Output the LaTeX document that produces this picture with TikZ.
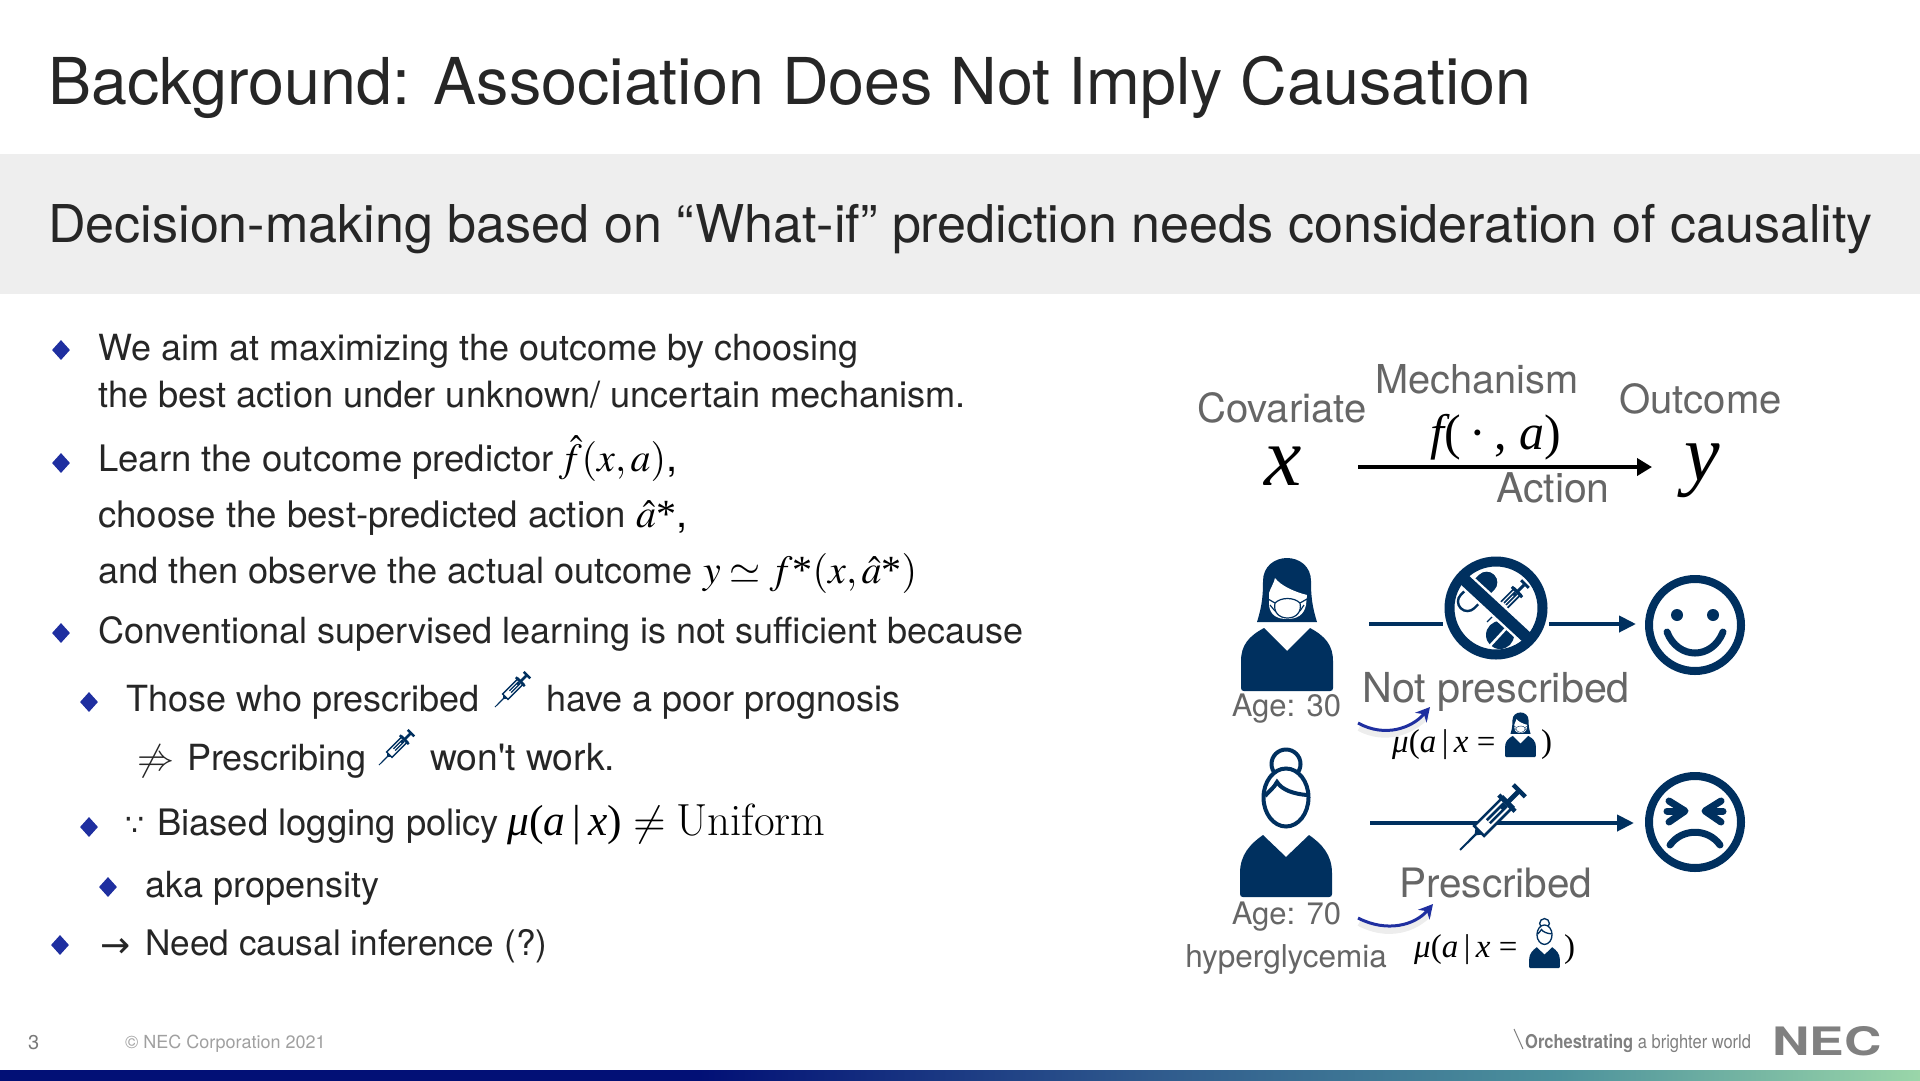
\documentclass[tikz,border=0pt]{standalone}
\usepackage{mathptmx}
\usepackage[no-math]{fontspec}
\setsansfont{TeX Gyre Heros}
\newfontfamily\plainsf{TeX Gyre Heros}
\newfontfamily\djv{DejaVu Sans}
\newfontfamily\lmr{Latin Modern Roman}
\newfontfamily\tm{Liberation Serif}
\usetikzlibrary{arrows.meta,shapes.geometric}
\definecolor{navy}{HTML}{00305F}
\definecolor{bulletblue}{HTML}{1F2FA0}
\definecolor{ink}{HTML}{262626}
\definecolor{labelgray}{HTML}{666666}
\definecolor{footgray}{HTML}{A0A0A0}
\definecolor{pagegray}{HTML}{7A7A7A}
\definecolor{loggray}{HTML}{808080}
\definecolor{barA}{HTML}{021076}
\definecolor{barB}{HTML}{2F5A8D}
\definecolor{barC}{HTML}{4C919C}
\definecolor{barD}{HTML}{9AD6A9}
\pgfdeclarehorizontalshading{barshade}{100bp}{color(0bp)=(barA);color(43.2bp)=(barA);color(54.95bp)=(barB);color(65.6bp)=(barC);color(75bp)=(barD);color(100bp)=(barD)}
\newcommand{\fs}[1]{\fontsize{#1}{#1}\selectfont}
\newcommand{\ti}[1]{{\tm\itshape #1}}
\newcommand{\tast}{\mbox{\tm *}}
\newcommand{\muax}{\ti{μ}(\ti{a}\,|\,\ti{x}}
\tikzset{
  txt/.style={inner sep=0pt,anchor=base west,text=ink,font=\sffamily\fs{36}},
  lab/.style={inner sep=0pt,anchor=base west,text=labelgray,font=\sffamily\fs{40.1}},
  smalllab/.style={inner sep=0pt,anchor=base,text=labelgray,font=\sffamily\fs{31}},
  mth/.style={inner sep=0pt,anchor=base west,text=black},
  bul/.style={diamond,aspect=0.85,fill=bulletblue,inner sep=0pt,minimum width=18pt,minimum height=20pt},
  navyarrow/.style={draw=navy,line width=4pt,-{Triangle[length=17pt,width=16pt]}},
  navyline/.style={draw=navy,line width=4pt},
  blackarrow/.style={draw=black,line width=4pt,-{Triangle[length=15pt,width=17pt]}},
  bluearrow/.style={draw=bulletblue,line width=3pt,-{Stealth[length=14pt,width=15pt]}},
  softshadow/.style={draw=black,opacity=.07,line width=6pt},
}
\newcommand{\syringe}[3]{%
 \begin{scope}[shift={(#1,#2)},rotate=45,scale=#3]
  \fill[navy] (0,-.9) -- (0,.9) -- (22,1.2) -- (27,5) -- (27,-5) -- (22,-1.2) -- cycle;
  \draw[navy,fill=white,line width=#3*2.6pt] (27,-7) rectangle (68,7);
  \fill[navy] (40,-3.4) rectangle (64,3.4);
  \fill[white] (40,-0.7) rectangle (58,0.7);
  \fill[navy] (64,-11.5) rectangle (68.5,11.5);
  \fill[navy] (68,-2.4) rectangle (82,2.4);
  \fill[navy] (81.5,-8.5) rectangle (86,8.5);
 \end{scope}}
\newcommand{\torsoA}{%
  \fill[navy] (-43,0) .. controls (-45,0) and (-46,-1) .. (-46,-3) -- (-46,-30)
   .. controls (-46,-46) and (-38,-55) .. (-23,-63) -- (0,-40) -- (23,-63)
   .. controls (38,-55) and (46,-46) .. (46,-30) -- (46,-3)
   .. controls (46,-1) and (45,0) .. (43,0) -- cycle;}
\newcommand{\torsoB}{%
  \fill[navy] (-43,0) .. controls (-45,0) and (-46,-1) .. (-46,-3) -- (-46,-24)
   .. controls (-46,-42) and (-36,-53) .. (-23,-62) -- (0,-40) -- (23,-62)
   .. controls (36,-53) and (46,-42) .. (46,-24) -- (46,-3)
   .. controls (46,-1) and (45,0) .. (43,0) -- cycle;}
\newcommand{\maskwoman}[3]{%
 \begin{scope}[shift={(#1,#2)},scale=#3]
  \torsoA
  \fill[navy] (-30,-69) .. controls (-25,-85) and (-24,-95) .. (-24,-110)
    .. controls (-24,-125) and (-12,-133) .. (0,-133)
    .. controls (12,-133) and (24,-125) .. (24,-110)
    .. controls (24,-95) and (25,-85) .. (30,-69) -- cycle;
  \fill[white] (-18,-98) .. controls (-16,-104) and (-13,-108) .. (-12,-113)
    .. controls (-6,-105) and (8,-99) .. (20,-96)
    -- (19,-86) .. controls (17,-76) and (10,-72) .. (0,-72)
    .. controls (-10,-72) and (-17,-76) .. (-18,-86) -- cycle;
  \draw[navy,line width=#3*1.2pt] (-12,-88) -- (-19,-92) (-12,-80) -- (-17,-86) (13,-88) -- (20,-92) (13,-80) -- (17,-86);
  \draw[navy,fill=white,line width=#3*1.2pt] (-12,-88) .. controls (-6,-94) and (7,-94) .. (13,-88)
    .. controls (15,-79) and (9,-73) .. (0.5,-73) .. controls (-8,-73) and (-14,-79) .. (-12,-88) -- cycle;
 \end{scope}}
\newcommand{\oldwoman}[3]{%
 \begin{scope}[shift={(#1,#2)},scale=#3]
  \torsoB
  \draw[navy,line width=#3*4pt] (0,-133) circle[radius=14.5pt];
  \draw[navy,fill=white,line width=#3*4pt] (0,-99.5) circle[x radius=22.5pt,y radius=29pt];
  \draw[navy,line width=#3*4pt] (-21,-101) .. controls (-17,-106) and (-12,-109) .. (-9,-115)
     .. controls (-4,-107) and (8,-103) .. (21,-102);
 \end{scope}}
\begin{document}
\begin{tikzpicture}[x=1pt,y=-1pt]
\useasboundingbox (0,0) rectangle (1920,1080);
\fill[white] (0,0) rectangle (1920,1080);
\fill[black!6.5] (0,154) rectangle (1920,294);
% bottom band
\shade[shading=barshade] (0,1070) rectangle (1920,1080);
% titles
\node[txt,font=\sffamily\fs{64.6}] (title) at (48,104) {Background: Association Does Not Imply Causation};
\node[txt,font=\sffamily\fs{52.1}] (subtitle) at (48,242) {Decision-making based on “What-if” prediction needs consideration of causality};
% bullets
\node[bul] (b1) at (61,350) {};
\node[bul] (b2) at (61,463) {};
\node[bul] (b3) at (61,633) {};
\node[bul] (b4) at (89,702) {};
\node[bul] (b5) at (89,827) {};
\node[bul] (b6) at (108,887) {};
\node[bul] (b7) at (60,945) {};
% body text
\node[txt] (l1) at (98,360) {We aim at maximizing the outcome by choosing};
\node[txt,font=\sffamily\fs{36.2}] (l2) at (98,407) {the best action under unknown/ uncertain mechanism.};
\node[txt,font=\sffamily\fs{36.5}] (l3) at (98,471) {Learn the outcome predictor\hspace{5pt}\fs{40}\color{black}$\hat{f}(x,a)$,};
\node[txt,font=\sffamily\fs{36.6}] (l4) at (98,527) {choose the best-predicted action \fs{40}\color{black}$\hat{a}$\tast,};
\node[txt,font=\sffamily\fs{36.15}] (l5) at (98,583) {and then observe the actual outcome \fs{40}\color{black}$y\simeq f$\tast$(x,\hat{a}$\tast$)$};
\node[txt] (l6) at (98,643) {Conventional supervised learning is not sufficient because};
\node[txt] (l7) at (126,711) {Those who prescribed};
\node[txt] (l7b) at (546,711) {have a poor prognosis};
\node[txt,font=\fs{37}] (l8a) at (137,770) {$\not\Rightarrow$};
\node[txt] (l8) at (187,770) {Prescribing};
\node[txt,font=\plainsf\fs{37.3}] (l8b) at (430,770) {won't work.};
\node[txt,font=\djv\fs{30}] (l9a) at (125,835) {∵};
\node[txt,font=\sffamily\fs{36.4}] (l9) at (157,835) {Biased logging policy};
\node[mth] (l9m) at (507,835) {\tm\fs{43.5}\muax)};
\node[mth] (l9n) at (633,835) {\fs{42}$\neq$};
\node[mth] (l9u) at (676,835) {\lmr\fs{45}Uniform};
\node[txt] (l10) at (145,897) {aka propensity};
\node[txt,font=\djv\fs{36}] (l11a) at (100,957) {→};
\node[txt,font=\sffamily\fs{35.2}] (l11) at (145,955) {Need causal inference (?)};
\syringe{495}{707}{0.54}
\syringe{379}{765}{0.54}
% header diagram
\node[lab] (cov) at (1197,422) {Covariate};
\node[lab,font=\sffamily\fs{39.8}] (mech) at (1375,393) {Mechanism};
\node[lab] (out) at (1619,413) {Outcome};
\node[lab,font=\sffamily\fs{41}] (act) at (1496,502) {Action};
\node[mth] (xv) at (1264,485) {\fs{84}\ti{x}};
\node[mth] (yv) at (1684,480) {\fs{80}\ti{y}};
\node[mth] (fv) at (1430,449) {\tm\fs{50}\ti{f}(\,·\,, \ti{a})};
\coordinate (hs) at (1358,467);
\coordinate (he) at (1652,467);
\draw[blackarrow] (hs) -- (he);
% row 1
\maskwoman{1287}{691}{1}
\coordinate (r1s) at (1369,624);
\coordinate (r1m) at (1443,624);
\coordinate (r1n) at (1549,624);
\coordinate (r1e) at (1636,624);
\draw[navyline] (r1s) -- (r1m);
\draw[navyarrow] (r1n) -- (r1e);
\begin{scope}
 \clip (1496,608) circle[radius=47pt];
 \begin{scope}[shift={(1477,592)},rotate=45]
  \draw[navy,line width=2.4pt,fill=white,rounded corners=9.5pt] (-23,-9.5) rectangle (23,9.5);
  \fill[navy,rounded corners=9.5pt] (-2,-10) rectangle (24,10);
  \fill[navy] (-2,-10) rectangle (8,10);
 \end{scope}
 \syringe{1487}{622}{0.64}
 \fill[navy] (1500,635) circle[radius=14pt];
 \draw[white,line width=2.5pt] (1488,648) -- (1512,622);
 \draw[white,line width=17pt] (1458,574) -- (1532,642);
 \draw[navy,line width=12pt] (1455,571) -- (1535,645);
\end{scope}
\draw[navy,line width=10pt] (1496,608) circle[radius=46.5pt];
\draw[navy,line width=8pt] (1695,625) circle[radius=46pt];
\fill[navy] (1677,615) circle[radius=6pt] (1713,615) circle[radius=6pt];
\draw[navy,line width=7pt,line cap=round] (1667,632) .. controls (1678,660) and (1712,660) .. (1723,632);
\node[smalllab] (age30) at (1286.5,716) {Age: 30};
\node[lab,font=\sffamily\fs{41.3}] (notp) at (1362,702) {Not prescribed};
\coordinate (c1s) at (1358,723);
\coordinate (c1e) at (1430,707);
\draw[softshadow] (1359,728) .. controls (1385,742) and (1412,732) .. (1427,716);
\draw[bluearrow] (c1s) .. controls (1385,738) and (1412,728) .. (c1e);
\node[mth] (mu1) at (1392,752) {\tm\fs{33}\muax{} =};
\maskwoman{1520.5}{757}{0.335}
\node[mth] (mu1c) at (1541,752) {\tm\fs{33})};
% row 2
\oldwoman{1286}{897}{1}
\coordinate (r2s) at (1370,823);
\coordinate (r2e) at (1634,823);
\draw[navyarrow] (r2s) -- (r2e);
\syringe{1460}{850}{1}
\draw[navy,line width=8pt] (1695,822) circle[radius=46pt];
\draw[navy,line width=7pt,line cap=round,line join=round] (1669,801) -- (1685,811) -- (1669,822);
\draw[navy,line width=7pt,line cap=round] (1667,811) -- (1680,811);
\draw[navy,line width=7pt,line cap=round,line join=round] (1721,801) -- (1705,811) -- (1721,822);
\draw[navy,line width=7pt,line cap=round] (1723,811) -- (1710,811);
\draw[navy,line width=7pt,line cap=round] (1670,845) .. controls (1682,828) and (1708,828) .. (1720,845);
\node[smalllab] (age70) at (1286.5,924) {Age: 70};
\node[smalllab,font=\sffamily\fs{31.5}] (hyper) at (1286,967) {hyperglycemia};
\node[lab,font=\sffamily\fs{40.5}] (pres) at (1399,897) {Prescribed};
\coordinate (c2s) at (1358,918);
\coordinate (c2e) at (1433,904);
\draw[softshadow] (1359,923) .. controls (1387,938) and (1415,930) .. (1430,913);
\draw[bluearrow] (c2s) .. controls (1387,933) and (1415,925) .. (c2e);
\node[mth] (mu2) at (1414,957) {\tm\fs{33}\muax{} =};
\oldwoman{1544.5}{968}{0.335}
\node[mth] (mu2c) at (1564,957) {\tm\fs{33})};
% footer
\node[txt,text=pagegray,font=\sffamily\fs{20}] (pg) at (28,1049) {3};
\node[txt,text=footgray,font=\sffamily\fs{18}] (copy) at (125,1048) {© NEC Corporation 2021};
\node[txt,text=loggray,font=\sffamily\fs{19}] (slogan) at (1525,1048) {\scalebox{.867}[1]{\textbf{Orchestrating}\ a brighter world}};
\draw[loggray,line width=1pt] (1514,1029) -- (1523,1049);
\node[txt,text=loggray,font=\sffamily\bfseries\fs{38}] (nec) at (1772,1055) {\scalebox{1.36}[1.03]{NEC}};
\end{tikzpicture}
\end{document}
